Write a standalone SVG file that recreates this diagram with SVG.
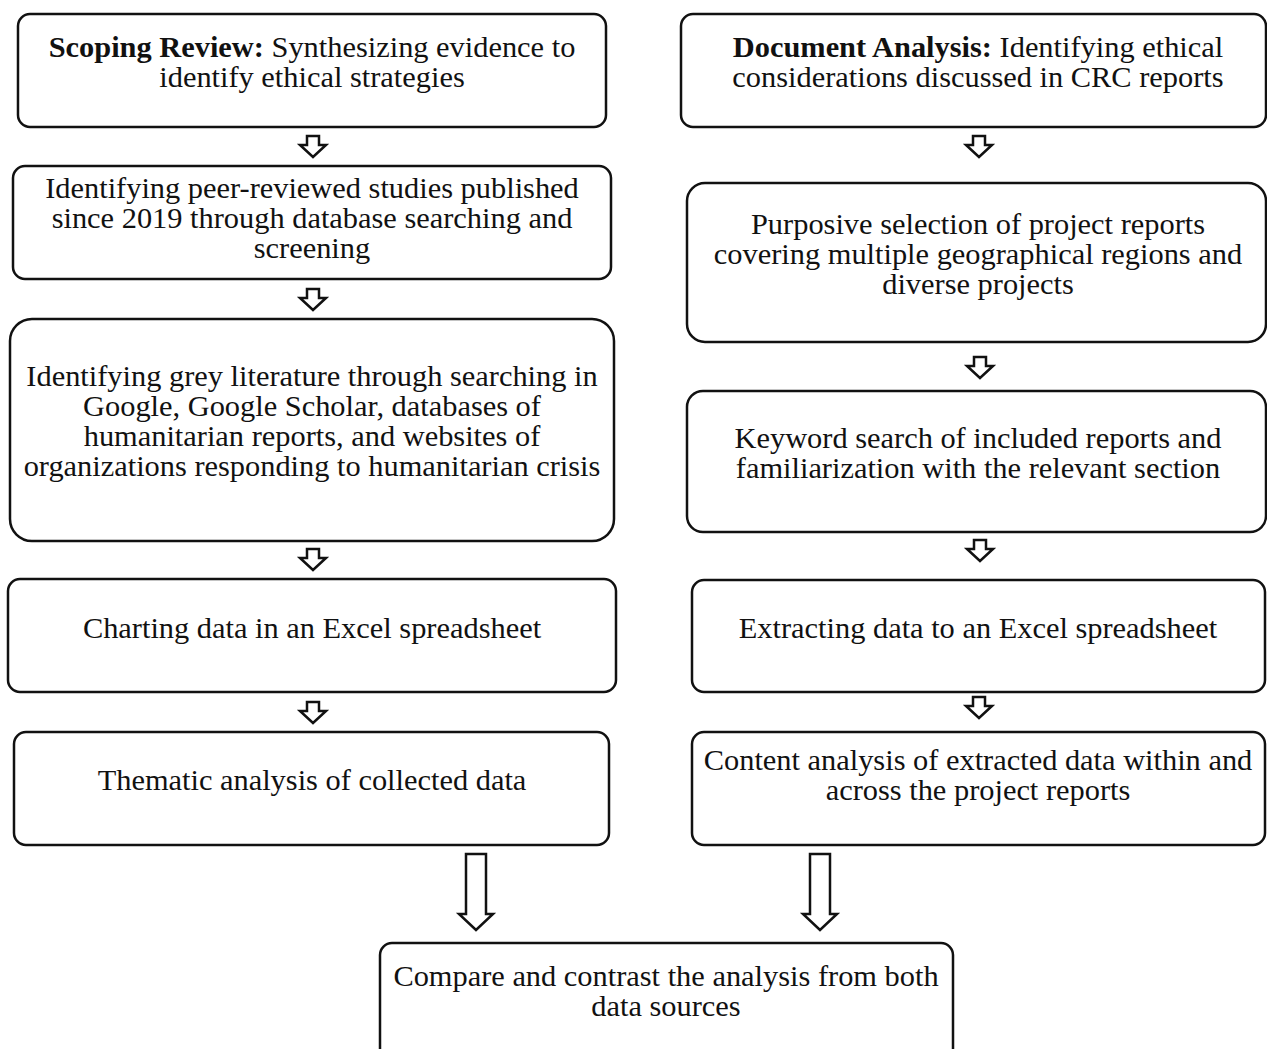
<svg xmlns="http://www.w3.org/2000/svg" width="1267" height="1049" viewBox="0 0 1267 1049">
<style>
.box{fill:#fff;stroke:#111;stroke-width:2.5}
.arr{fill:#fff;stroke:#111;stroke-width:2.5;stroke-linejoin:miter}
text{font-family:"Liberation Serif","Times New Roman",serif;font-size:30.4px;fill:#111;text-anchor:middle}
.b{font-weight:bold}
</style>
<rect width="1267" height="1049" fill="#fff"/>
<g id="connectors">
<path class="arr" d="M307,136 h12 v9 h7 l-13,12 l-13,-12 h7 z"/>
<path class="arr" d="M307,289 h12 v9 h7 l-13,12 l-13,-12 h7 z"/>
<path class="arr" d="M307,549 h12 v9 h7 l-13,12 l-13,-12 h7 z"/>
<path class="arr" d="M307,702 h12 v9 h7 l-13,12 l-13,-12 h7 z"/>
<path class="arr" d="M973,136 h12 v9 h7 l-13,12 l-13,-12 h7 z"/>
<path class="arr" d="M974,357 h12 v9 h7 l-13,12 l-13,-12 h7 z"/>
<path class="arr" d="M974,540 h12 v9 h7 l-13,12 l-13,-12 h7 z"/>
<path class="arr" d="M973,697 h12 v9 h7 l-13,12 l-13,-12 h7 z"/>
<path class="arr" d="M466,854 h20 v60 h7 l-17,16 l-17,-16 h7 z"/>
<path class="arr" d="M810,854 h20 v60 h7 l-17,16 l-17,-16 h7 z"/>
</g>
<g id="n-scoping">
<rect class="box" x="18" y="14" width="588" height="113" rx="12"/>
<text x="312" y="57"><tspan class="b">Scoping Review:</tspan> Synthesizing evidence to</text>
<text x="312" y="87">identify ethical strategies</text>
</g>
<g id="n-peer">
<rect class="box" x="13" y="166" width="598" height="113" rx="12"/>
<text x="312" y="198">Identifying peer-reviewed studies published</text>
<text x="312" y="228">since 2019 through database searching and</text>
<text x="312" y="258">screening</text>
</g>
<g id="n-grey">
<rect class="box" x="10" y="319" width="604" height="222" rx="22"/>
<text x="312" y="386">Identifying grey literature through searching in</text>
<text x="312" y="416">Google, Google Scholar, databases of</text>
<text x="312" y="446">humanitarian reports, and websites of</text>
<text x="312" y="476">organizations responding to humanitarian crisis</text>
</g>
<g id="n-charting">
<rect class="box" x="8" y="579" width="608" height="113" rx="12"/>
<text x="312" y="638">Charting data in an Excel spreadsheet</text>
</g>
<g id="n-thematic">
<rect class="box" x="14" y="732" width="595" height="113" rx="12"/>
<text x="312" y="790">Thematic analysis of collected data</text>
</g>
<g id="n-document">
<rect class="box" x="681" y="14" width="585" height="113" rx="12"/>
<text x="978" y="57"><tspan class="b">Document Analysis:</tspan> Identifying ethical</text>
<text x="978" y="87">considerations discussed in CRC reports</text>
</g>
<g id="n-purposive">
<rect class="box" x="687" y="183" width="579" height="159" rx="18"/>
<text x="978" y="234">Purposive selection of project reports</text>
<text x="978" y="264">covering multiple geographical regions and</text>
<text x="978" y="294">diverse projects</text>
</g>
<g id="n-keyword">
<rect class="box" x="687" y="391" width="579" height="141" rx="16"/>
<text x="978" y="448">Keyword search of included reports and</text>
<text x="978" y="478">familiarization with the relevant section</text>
</g>
<g id="n-extracting">
<rect class="box" x="692" y="580" width="573" height="112" rx="12"/>
<text x="978" y="638">Extracting data to an Excel spreadsheet</text>
</g>
<g id="n-content">
<rect class="box" x="692" y="732" width="573" height="113" rx="12"/>
<text x="978" y="770">Content analysis of extracted data within and</text>
<text x="978" y="800">across the project reports</text>
</g>
<g id="n-compare">
<rect class="box" x="380" y="943" width="573" height="120" rx="12"/>
<text x="666" y="986">Compare and contrast the analysis from both</text>
<text x="666" y="1016">data sources</text>
</g>
</svg>
